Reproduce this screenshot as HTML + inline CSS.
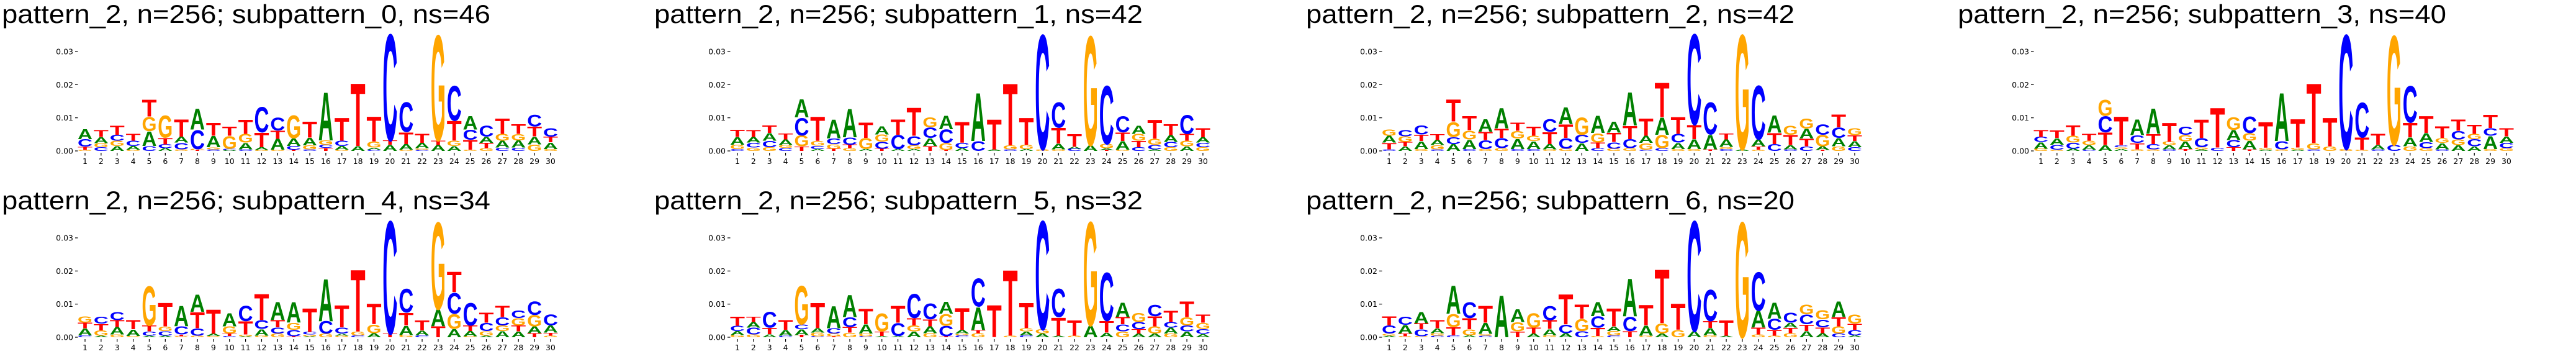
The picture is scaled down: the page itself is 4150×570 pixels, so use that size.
<!DOCTYPE html>
<html><head><meta charset="utf-8">
<style>
html,body{margin:0;padding:0;background:#fff;width:4150px;height:570px;overflow:hidden;}
svg{display:block;}
</style></head>
<body>
<svg id="fig" xmlns="http://www.w3.org/2000/svg" width="4150" height="570" viewBox="0 0 4150 570" overflow="hidden"></svg>
<script>
// Letter heights per position (bottom to top), in units of 0.001
const titles = [
 "pattern_2, n=256; subpattern_0, ns=46",
 "pattern_2, n=256; subpattern_1, ns=42",
 "pattern_2, n=256; subpattern_2, ns=42",
 "pattern_2, n=256; subpattern_3, ns=40",
 "pattern_2, n=256; subpattern_4, ns=34",
 "pattern_2, n=256; subpattern_5, ns=32",
 "pattern_2, n=256; subpattern_6, ns=20"
];
const sub0 = ["G.3 T1 C2.3 A3.1","C1.1 G1.2 A1.9 T2.1","A1.5 G1.6 C1.8 T2.9","G.4 A1.1 C1.6 T2.1","C1.5 A4.5 G4.4 T5.2","A.8 C1.2 T2 G6.8","G.5 C2 A1.8 T5.3","T.3 G.3 C5.9 A6.5","C.5 G.6 A3.5 T4","A.3 C.4 G3.9 T2.9","C.5 A2 G2.7 T4.4","G.3 A.8 T4.5 C7.8","G.4 A3.3 T2.5 C4","T.4 C1.1 A2.3 G7.1","C.5 G1.2 A2.3 T5","T.9 C1 G1.3 A15","G.4 A1.1 C1.6 T7.1","A1.5 T19.5","C.4 A.6 G1.9 T7.7","A1.9 T1.3 C33","G.4 A1.7 T3.6 C9.2","C.4 G.4 A1.6 T2.8","A1.8 T1.4 G32.7","A1.5 G1.6 T6.1 C10.8","G.4 T3 C3.1 A4.2","G.8 T1.6 A1.9 C3.3","C1 A2.1 G2.1 T4.7","C1 A2.2 G2 T3","G2 A2.4 T3 C3.6","G.6 A2 T1.7 C2.6"];
const sub1 = ["C.6 G1.3 A2.3 T2.2","G1 C1.5 A1.7 T2.1","G1.1 C2 A2.3 T2.4","C.9 G.85 A1.7 T1.8","T1.4 G3.3 C5.4 A5.6","A.6 C1 G1.5 T7.5","T.7 G1.4 C1.7 A5.8","G.8 T1.1 C2.2 A8.9","A.6 G3.3 T4.7","T.7 C2.1 G2.2 A2.5","A.6 C4.3 T4.7","A.6 G1.1 C2.85 T8.7","T1.5 A2.4 C3.2 G3.1","T.3 G2.1 C4.2 A4.2","A.8 C1.6 T6.5","C3 A15","A.5 T9.4","C.5 G1.2 T19.2","A.6 G1.3 T8.3","G.5 C35.6","G.5 A1.75 T4.8 C7.8","C.7 A.6 T3.9","A1.75 G33.9","T.3 A.5 G1.3 C18.1","G.4 A2.6 T2.6 C5","C1.1 T2 G2.1 A2.5","A.5 C1.4 G1.85 T5.85","G1.1 C1.6 A2.05 T3.35","A1.4 G1.7 T2.1 C5.8","G1.1 C1.4 A1.6 T2.8"];
const sub2 = ["C.5 T2 A2.1 G2","A1.4 T1.3 G1.7 C2","G.6 A2.4 T2 C2.8","C.5 G1.25 A1.55 T1.9","A2.1 C2.15 G4.65 T6.9","C.6 A2.9 G2.75 T4.35","G.6 C2.7 T2.5 A3.8","G.8 C3.1 T2.85 A6.35","C.6 A3.15 G2.35 T2.5","C.6 A2.4 G1.6 T2.9","G.5 A1.6 T3.7 C3.8","G.7 C3.2 T4.2 A5.2","A2.4 C2.5 G5.3","C.8 T1.7 G2.9 A5.4","G.7 C2 T2.8 A3.4","G.8 C2.8 T4.1 A10.3","C.4 G2 A2.2 T5.4","C.8 G4.1 A5.3 T10.7","G.6 A1.9 C2.7 T5.2","G.6 A3 T4.4 C28.1","T.5 A4.5 C10","C.6 G.6 A2.3 T1.9","A.5 G35.6","G.4 T1 A2.1 C16.7","C2.1 T3.4 A5.3","C.5 A1.25 T3.15 G2.8","C1.4 T2.35 A3 G3.15","T.3 A1.1 G3.5 C3.2","G1.4 A2.5 C3.2 T4","C1.1 A1.9 T1.75 G2.15"];
const sub3 = ["G.7 A2 C1.55 T2.15","G.4 C1.5 A2 T2.4","A.7 C1.8 G2.1 T3.2","C.4 A1.35 G1.35 T2.1","A1.75 T3.85 C5 G5","A.6 G.5 C.65 T8.85","G.5 T1.9 C2.35 A4.85","G.5 C1.6 T3.1 A7.8","C.5 A1.25 G1.05 T5.8","T.6 A2.3 G2 C2.5","A.5 G.6 C2.8 T5.7","C1 T12.3","T1.1 C2.2 A3.1 G3.8","T.5 A2.6 G2.3 C5.1","A.4 G.5 T8","G.5 C2.5 A15","A.4 G.6 T8.9","C.5 G1.9 T18.5","G1.4 T8.8","G.6 C35.5","G.3 T3.8 C10.9","C.5 A1.4 T3.3","C1.9 G33.9","G1.4 A2.7 T4.5 C11.4","G.8 C1.9 A2.7 T5.2","C.5 A1.9 G1.5 T3.6","A1.75 G1.75 C2.6 T3.5","A1.4 C2.2 G1.6 T2.9","G.6 A4 C2.3 T4.1","G.8 C1.6 A2 T2.5"];
const sub4 = ["C.6 A2.1 T1.7 G2","A.5 G1.6 T2 C2.15","G.8 A2.3 T2.1 C2.5","G.4 A2 T2.8","A.5 C1.25 T1.85 G12.2","A.5 C1.4 G1.4 T7.3","G.3 T.5 C2.5 A6.3","G.5 C2.2 T5 A5.3","G.4 A.7 T7.5","C.4 T.7 G2.2 A4.1","A.3 G.5 T4.1 C4.7","G.5 A2 C2.7 T8.1","G1.1 C1.9 T2.2 A5.6","T.3 C1.95 G2.15 A6.4","A.3 G.5 C.8 T7.3","G1.1 C3.8 A13.1","G.5 A.6 C1.9 T6.9","C.6 G1.15 T19.2","A1.25 G2.65 T6.3","T1.1 C35","G.7 A2.9 T3.9 C7.4","C.6 A1.5 T3.1","T3.3 A5.2 G27","A2.5 G4.6 C6.5 T6.4","G.3 A1.6 T1.7 C7","A.5 G1.4 C2.5 T3.1","A1.9 G1.7 C2.5 T3.5","A1.75 T1.85 G2.2 C2.3","T1.25 A2.05 G3.45 C4.25","G.5 T.9 A2.2 C3.3"];
const sub5 = ["G.7 A1.2 C1.6 T2.9","G.8 C2.1 A1.7 T1.65","A.9 T2 C4.8","C.5 A1.75 T2.95","T.7 A1.7 C1.5 G11.9","C.3 G1.1 A1.3 T7.9","T.3 G.8 C1.6 A6.9","G1.4 T1.7 C3 A6.9","C.3 G.8 A2.8 T4.7","A.4 T1.35 G5.65","A.4 C4 T5.2","A1.75 G1.85 T2.2 C7.5","G1.25 A2.05 T2.1 C4.8","T.3 C3.2 G3.6 A3.7","C.6 G.5 A1.15 T6.7","G1.25 T1 A7 C8.75","T10","G.5 T20.4","C.6 A1.15 G.95 T7.8","A1.1 G1.3 C33.7","A.5 T5.6 C8.8","G.5 T4.7","A3.6 G32.2","A1.4 T3.6 C15","G1.75 C2.15 T2.2 A4.5","A1.1 T1.3 C2.2 G2.9","A1.1 G2.2 T3.1 C3.5","G1.1 A1.8 C1.7 T3.5","A1.75 C1.85 G2.5 T4.9","A1 C1.5 G1.9 T2.5"];
const sub6 = ["A.5 G.6 C2.5 T2.8","G.3 T.8 A2.65 C2.5","G.3 C2.1 T1.85 A3.45","C.5 G.75 A1.45 T2.5","C.6 T2.5 G4 A8.7","A.6 G1.8 T3.4 C4.8","C.5 G.5 A3.4 T5.2","A13","T1.75 G2.85 A4","A1.1 T1.8 G4.5","G.6 A1.9 T2.7 C4.4","A1.25 C2.65 T9.4","C1.9 G3.7 T4.4","G.4 T2.5 C3.5 A4.4","C.6 G1.3 A1.4 T5.6","T1.9 C4.35 A11.75","G.5 A3.1 T6.3","A1.1 G3.15 T16.65","G2.25 T8.15","A1.9 C34.2","G.6 A2.2 T2.1 C9.7","A.5 T4.7","G35.8","G.8 T2.1 A5.2 C11.9","G.5 T1.75 C3.35 A5","G1.25 T1.65 A1.5 C3.1","A1.9 T2 C3 G3","A1.25 T1.75 C2.4 G2.9","C1.1 G2.2 T2.8 A4.9","A.6 C1.65 T1.85 G2.8"];
const panels = [sub0, sub1, sub2, sub3, sub4, sub5, sub6];
const yTicks = [0, 0.01, 0.02, 0.03];
const yTickLabels = ["0.00", "0.01", "0.02", "0.03"];
const positions = Array.from({length: 30}, (_, i) => i + 1);

const NS = "http://www.w3.org/2000/svg";
const svg = document.getElementById("fig");
const colors = {A: "#008000", C: "#0000ff", G: "#ffa500", T: "#ff0000"};
const colOff = [0, 1051, 2101, 3151];
const rowOff = 300;
const pxPerUnit = 53.33 / 0.01;
function mk(tag, attrs, parent) {
  const e = document.createElementNS(NS, tag);
  for (const k in attrs) e.setAttribute(k, attrs[k]);
  parent.appendChild(e);
  return e;
}
panels.forEach((data, p) => {
  const ox = colOff[p % 4], oy = Math.floor(p / 4) * rowOff;
  const base = 243 + oy;
  const xScale = i => ox + 137 + (i - 1) * 25.86;
  const yScale = v => base - v * pxPerUnit;
  const g = mk("g", {}, svg);
  
  
  const t = mk("text", {x: ox + 3, y: 37 + oy, "font-family": "Liberation Sans, sans-serif", "font-size": 42, textLength: 787, lengthAdjust: "spacingAndGlyphs", fill: "#000"}, g);
  t.textContent = titles[p];
  
  
  yTicks.forEach((v, k) => {
    const y = yScale(v);
    const tl = mk("line", {x1: ox + 121, x2: ox + 125.5, y1: y, y2: y, stroke: "#000", "stroke-width": 1.2}, g);
    
    
    const lb = mk("text", {x: ox + 118, y: y + 4.5, "text-anchor": "end", "font-family": "DejaVu Sans, sans-serif", "font-size": 12.5, fill: "#000"}, g);
    lb.textContent = yTickLabels[k];
    
    
  });
  positions.forEach(i => {
    const x = xScale(i);
    const tl = mk("line", {x1: x, x2: x, y1: base + 3, y2: base + 7.5, stroke: "#000", "stroke-width": 1.2}, g);
    
    
    const lb = mk("text", {x: x, y: base + 21, "text-anchor": "middle", "font-family": "DejaVu Sans, sans-serif", "font-size": 12.5, fill: "#000"}, g);
    lb.textContent = String(i);
    
    
  });
  data.forEach((col, idx) => {
    const pos = positions[idx];
    const xL = xScale(pos) - 12;
    let cum = 0;
    col.split(" ").forEach(tok => {
      const L = tok[0];
      const v = parseFloat(tok.slice(1)) / 1000;
      const y0 = yScale(cum), y1 = yScale(cum + v);
      cum += v;
      const h = y0 - y1;
      if (h <= 0.05) return;
      const sy = h / 71.6;
      const lt = mk("text", {
        x: 0, y: 0, "font-family": "Liberation Sans, sans-serif", "font-weight": "bold",
        "font-size": 100, textLength: 100, lengthAdjust: "spacingAndGlyphs", fill: colors[L],
        transform: "translate(" + xL.toFixed(2) + "," + y0.toFixed(2) + ") scale(0.24," + sy.toFixed(4) + ")"
      }, g);
      lt.textContent = L;
      
      
    });
  });
});
</script>
</body></html>
